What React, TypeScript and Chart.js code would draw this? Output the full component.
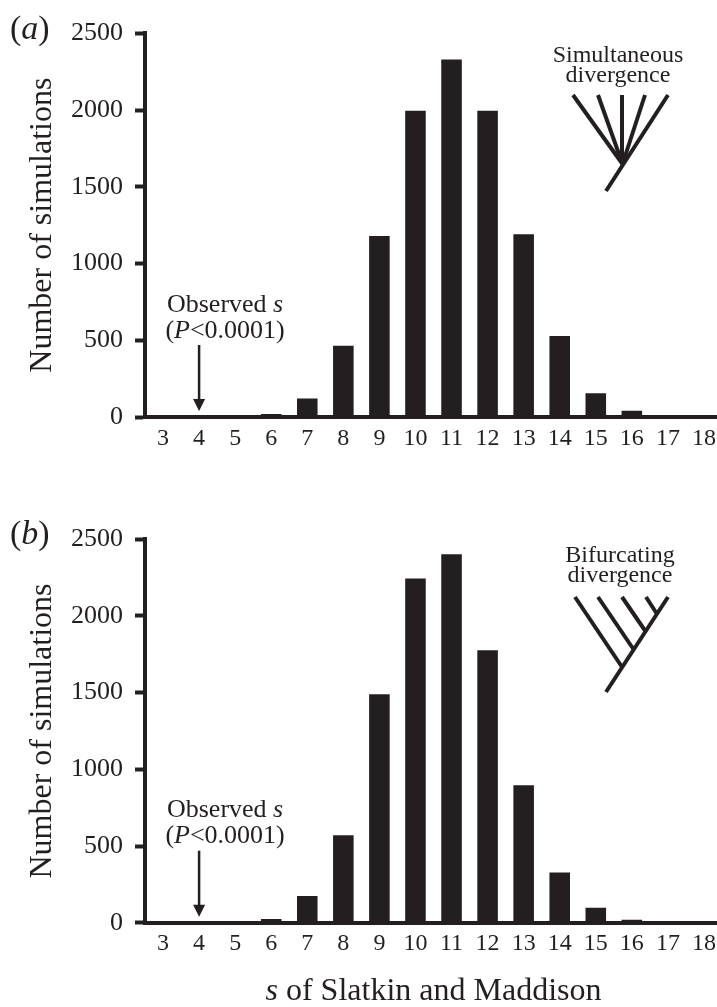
import React, { useEffect, useRef } from "react";
import { Chart, registerables } from "chart.js";

Chart.register(...registerables);

// ---- data ----
const sValues = ["3", "4", "5", "6", "7", "8", "9", "10", "11", "12", "13", "14", "15", "16", "17", "18"];
const simultaneousCounts = [0, 0, 0, 20, 120, 465, 1180, 1995, 2330, 1995, 1190, 528, 155, 41, 0, 0];
const bifurcatingCounts = [0, 0, 0, 24, 174, 571, 1490, 2244, 2403, 1777, 897, 328, 98, 20, 0, 0];
const yMax = 2500;
const yStep = 500;
const observedS = "4";
const yTitle = "Number of simulations";
const simultaneousLabel = ["Simultaneous", "divergence"];
const bifurcatingLabel = ["Bifurcating", "divergence"];

const INK = "#231f20";
const SERIF = "'Liberation Serif', 'Times New Roman', serif";

type Part = [string, boolean];

function drawRich(ctx: CanvasRenderingContext2D, parts: Part[], x: number, y: number, size: number, align: "center" | "left") {
  const fonts = parts.map(([, it]) => `${it ? "italic " : ""}${size}px ${SERIF}`);
  const widths = parts.map(([t], i) => {
    ctx.font = fonts[i];
    return ctx.measureText(t).width;
  });
  const total = widths.reduce((a, b) => a + b, 0);
  let cx = align === "center" ? x - total / 2 : x;
  ctx.textAlign = "left";
  ctx.textBaseline = "alphabetic";
  ctx.fillStyle = INK;
  parts.forEach(([t], i) => {
    ctx.font = fonts[i];
    ctx.fillText(t, cx, y);
    cx += widths[i];
  });
}

const simultaneousTree = [
  [668, 95, 606, 191],
  [573, 95, 622.5, 164],
  [598, 95, 622.5, 164],
  [622, 95, 622, 164],
  [645, 95, 622.5, 164],
];
const bifurcatingTree = [
  [668, 97, 606, 192],
  [575, 97, 622, 167],
  [598, 97, 634, 150],
  [622, 97, 646, 132],
  [646, 97, 657, 114],
];

const decorPlugin = {
  id: "panelDecor",
  afterDraw(chart: any, _args: any, opts: any) {
    const ctx: CanvasRenderingContext2D = chart.ctx;
    const { bottom } = chart.chartArea;
    ctx.save();
    // panel letter
    drawRich(ctx, [["(", false], [opts.letter, true], [")", false]], 10, opts.letterY, 34, "left");

    // observed arrow
    const ax = chart.scales.x.getPixelForValue(sValues.indexOf(observedS));
    ctx.strokeStyle = INK;
    ctx.fillStyle = INK;
    ctx.lineWidth = 2.5;
    ctx.beginPath();
    ctx.moveTo(ax, bottom - 72);
    ctx.lineTo(ax, bottom - 16);
    ctx.stroke();
    ctx.beginPath();
    ctx.moveTo(ax - 6, bottom - 18);
    ctx.lineTo(ax + 6, bottom - 18);
    ctx.lineTo(ax, bottom - 6);
    ctx.closePath();
    ctx.fill();
    drawRich(ctx, [["Observed ", false], ["s", true]], ax + 26, bottom - 105.5, 26, "center");
    drawRich(ctx, [["(", false], ["P", true], ["<0.0001)", false]], ax + 26, bottom - 79.5, 26, "center");

    // tree label
    const lines: string[] = opts.treeText;
    drawRich(ctx, [[lines[0], false]], opts.treeX, opts.treeY1, 24, "center");
    drawRich(ctx, [[lines[1], false]], opts.treeX, opts.treeY2, 24, "center");
    // tree
    ctx.lineWidth = 4;
    ctx.lineCap = "butt";
    ctx.strokeStyle = INK;
    for (const [x1, y1, x2, y2] of opts.tree as number[][]) {
      ctx.beginPath();
      ctx.moveTo(x1, y1);
      ctx.lineTo(x2, y2);
      ctx.stroke();
    }

    // x title
    if (opts.xTitle) {
      const cx = (chart.chartArea.left + chart.chartArea.right) / 2;
      drawRich(ctx, [["s", true], [" of Slatkin and Maddison", false]], cx, opts.xTitleY, 32, "center");
    }
    ctx.restore();
  },
};

type PanelProps = {
  top: number;
  height: number;
  values: number[];
  padTop: number;
  xHeight: number;
  decor: any;
};

function Panel({ top, height, values, padTop, xHeight, decor }: PanelProps) {
  const ref = useRef<HTMLCanvasElement | null>(null);
  useEffect(() => {
    if (!ref.current) return;
    const chart = new Chart(ref.current, {
      type: "bar",
      data: {
        labels: sValues,
        datasets: [
          {
            data: values,
            backgroundColor: INK,
            borderWidth: 0,
            barPercentage: 0.57,
            categoryPercentage: 1,
          },
        ],
      },
      plugins: [decorPlugin],
      options: {
        responsive: false,
        animation: false,
        devicePixelRatio: 1,
        layout: { padding: { top: padTop, right: 3, left: 0, bottom: 0 } },
        plugins: {
          legend: { display: false },
          tooltip: { enabled: false },
          panelDecor: decor,
        } as any,
        scales: {
          x: {
            type: "category",
            offset: true,
            grid: { display: true, drawOnChartArea: false, drawTicks: false },
            border: { display: true, width: 4, color: INK },
            ticks: {
              font: { family: SERIF, size: 24 },
              color: INK,
              padding: 7,
              maxRotation: 0,
              autoSkip: false,
            },
            afterFit: (s: any) => {
              s.height = xHeight;
            },
          },
          y: {
            min: 0,
            max: yMax,
            ticks: {
              stepSize: yStep,
              font: { family: SERIF, size: 26 },
              color: INK,
              padding: 12,
              callback: (v: any) => String(v),
            },
            grid: {
              drawOnChartArea: false,
              drawTicks: true,
              tickLength: 10,
              tickWidth: 4,
              tickColor: INK,
            },
            border: { display: true, width: 4, color: INK },
            title: {
              display: true,
              text: yTitle,
              font: { family: SERIF, size: 32 },
              color: INK,
              padding: { top: 23, bottom: 0 },
            },
            afterFit: (s: any) => {
              s.width = 145;
            },
          },
        },
      } as any,
    });
    return () => chart.destroy();
  }, []);
  return (
    <canvas
      ref={ref}
      width={725}
      height={height}
      style={{ position: "absolute", left: 0, top, width: 725, height }}
    />
  );
}

export default function App() {
  return (
    <div
      style={{
        position: "absolute",
        left: 0,
        top: 0,
        width: 717,
        height: 1007,
        overflow: "hidden",
        background: "#fff",
      }}
    >
      <Panel
        top={0}
        height={500}
        values={simultaneousCounts}
        padTop={33.3}
        xHeight={83}
        decor={{
          letter: "a",
          letterY: 39,
          treeText: simultaneousLabel,
          treeX: 618,
          treeY1: 61.7,
          treeY2: 81.7,
          tree: simultaneousTree,
          xTitle: false,
        }}
      />
      <Panel
        top={500}
        height={507}
        values={bifurcatingCounts}
        padTop={39.3}
        xHeight={84.3}
        decor={{
          letter: "b",
          letterY: 44,
          treeText: bifurcatingLabel,
          treeX: 620,
          treeY1: 61.7,
          treeY2: 82.3,
          tree: bifurcatingTree,
          xTitle: true,
          xTitleY: 500,
        }}
      />
    </div>
  );
}
